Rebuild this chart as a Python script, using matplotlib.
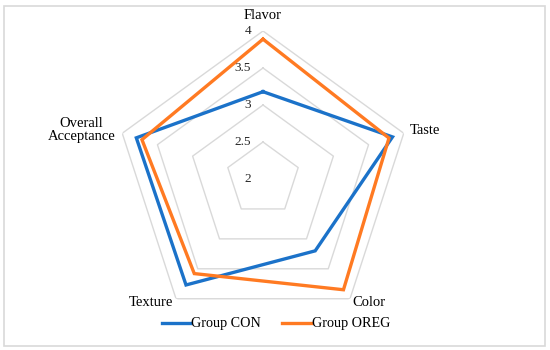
import numpy as np
import matplotlib
matplotlib.use("Agg")
import matplotlib.pyplot as plt
from matplotlib.patches import FancyBboxPatch

categories = ["Flavor", "Taste", "Color", "Texture", "Overall\nAcceptance"]
con_values = [3.18, 3.84, 3.20, 3.77, 3.80]
oreg_values = [3.89, 3.79, 3.85, 3.58, 3.72]
series_names = ["Group CON", "Group OREG"]
tick_values = [2, 2.5, 3, 3.5, 4]
tick_labels = ["2", "2.5", "3", "3.5", "4"]

plt.rcParams['font.family'] = ['Liberation Serif', 'DejaVu Serif']

fig = plt.figure(figsize=(5.5, 3.5), dpi=100)
# light border
fig.patches.append(FancyBboxPatch((0.008, 0.012), 0.982, 0.972, boxstyle="square,pad=0",
                                  transform=fig.transFigure, fill=False,
                                  edgecolor="#d9d9d9", linewidth=1.2))

cx, cy, R = 263 / 550, 1 - 179 / 350, 148
ax = fig.add_axes([cx - R / 550, cy - R / 350, 2 * R / 550, 2 * R / 350], projection='polar')
ax.set_theta_offset(np.pi / 2)
ax.set_theta_direction(-1)
ax.set_ylim(2, 4)
ax.grid(False)
ax.spines['polar'].set_visible(False)
ax.set_xticks([])
ax.set_yticks([])
ax.patch.set_alpha(0)

n = len(categories)
angles = np.arange(n) * 2 * np.pi / n
closed = np.concatenate([angles, angles[:1]])

for t in tick_values[1:]:
    ax.plot(closed, [t] * (n + 1), color="#d9d9d9", lw=1.0, zorder=1)

for t, lab in zip(tick_values, tick_labels):
    ax.annotate(lab, xy=(0, t), xytext=(-8.5, 0), textcoords='offset points',
                ha='right', va='center', fontsize=9.5, color='#262626')

c_con = "#1B72C9"
c_oreg = "#FF7A22"
ax.plot(closed, con_values + con_values[:1], color=c_con, lw=2.4, zorder=3,
        label=series_names[0], solid_joinstyle='miter')
ax.plot(closed, oreg_values + oreg_values[:1], color=c_oreg, lw=2.4, zorder=3,
        label=series_names[1], solid_joinstyle='miter')

# category labels
offsets = [(0, 11), (4, 2), (14, -3), (-18, -3), (-5, 2)]
aligns = [('center', 'center'), ('left', 'center'), ('center', 'center'),
          ('center', 'center'), ('right', 'center')]
for a, lab, off, (ha, va) in zip(angles, categories, offsets, aligns):
    ax.annotate(lab, xy=(a, 4), xytext=off, textcoords='offset points',
                ha=ha, va=va, fontsize=10.5, color='#000000',
                multialignment='center', linespacing=1.0, annotation_clip=False)

fig.legend(loc='center', bbox_to_anchor=(276 / 550, 1 - 324 / 350), ncol=2,
           frameon=False, fontsize=10.2, handlelength=2.0, handletextpad=0.1,
           columnspacing=1.5)

fig.savefig("out.png", dpi=100)
